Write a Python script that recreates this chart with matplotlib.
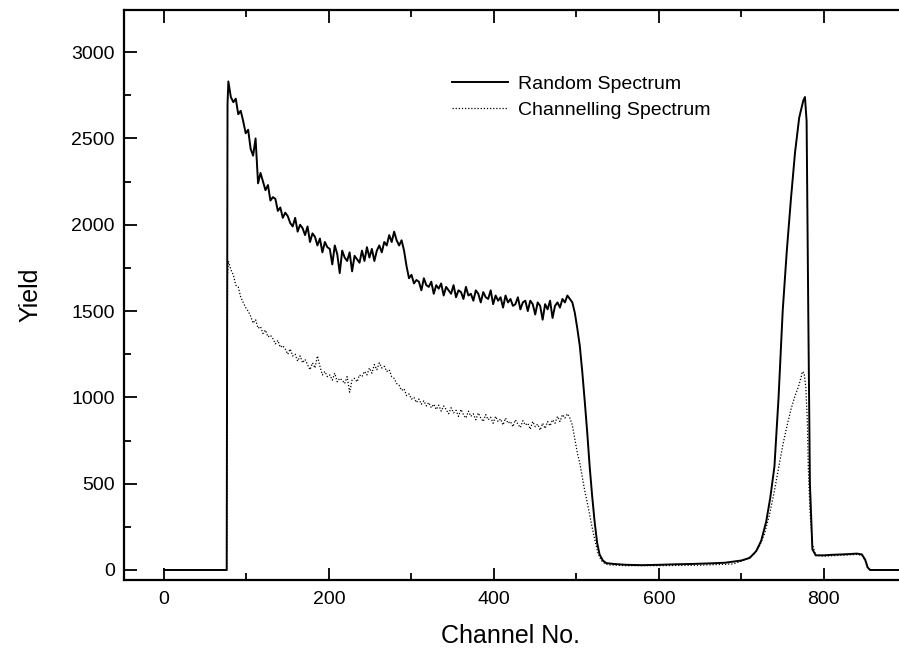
import matplotlib
matplotlib.use("Agg")
import matplotlib.pyplot as plt
from matplotlib.ticker import MultipleLocator

# channel grid of the noisy part of both spectra (every 3rd channel)
noisy_ch = list(range(78, 499, 3))

random_head_ch = [0, 76, 77]
random_head = [0, 0, 2700]
random_noisy = [
    2830, 2740, 2710, 2730, 2640, 2660, 2600, 2530, 2550, 2440, 2400, 2500,
    2240, 2300, 2250, 2200, 2230, 2140, 2160, 2150, 2080, 2100, 2040, 2070,
    2050, 2010, 1990, 2040, 1960, 2000, 1980, 1940, 1990, 1900, 1950, 1930,
    1880, 1920, 1840, 1900, 1870, 1860, 1770, 1880, 1830, 1720, 1850, 1810,
    1790, 1840, 1730, 1820, 1800, 1780, 1850, 1790, 1870, 1810, 1860, 1790,
    1850, 1880, 1840, 1900, 1880, 1940, 1900, 1960, 1910, 1880, 1910, 1850,
    1760, 1690, 1710, 1660, 1680, 1670, 1620, 1690, 1650, 1640, 1670, 1600,
    1650, 1630, 1660, 1590, 1640, 1620, 1600, 1650, 1580, 1620, 1610, 1570,
    1640, 1590, 1600, 1560, 1620, 1600, 1550, 1610, 1580, 1570, 1620, 1540,
    1590, 1560, 1580, 1520, 1590, 1550, 1570, 1530, 1540, 1580, 1510, 1550,
    1560, 1500, 1560, 1540, 1480, 1550, 1530, 1450, 1540, 1510, 1560, 1460,
    1530, 1550, 1520, 1570, 1550, 1590, 1570, 1550, 1490,
]
random_tail_ch = [501, 504, 507, 510, 513, 516, 519, 522, 525, 528, 532, 536,
                  545, 560, 580, 600, 620, 640, 660, 680, 700, 710, 718, 724,
                  730, 735, 740, 745, 750, 755, 760, 765, 770, 775, 777, 779,
                  781, 783, 786, 790, 800, 810, 820, 830, 840, 846, 850, 853,
                  856, 890]
random_tail = [1400, 1300, 1150, 980, 800, 600, 430, 280, 160, 90, 55, 40,
               35, 30, 28, 30, 33, 35, 38, 42, 55, 70, 110, 170,
               280, 420, 600, 1000, 1500, 1850, 2150, 2420, 2620, 2720, 2740, 2600,
               1500, 500, 120, 85, 85, 88, 90, 92, 95, 90, 60, 15,
               0, 0]

chan_head_ch = [0, 76, 77]
chan_head = [0, 0, 1700]
chan_noisy = [
    1790, 1740, 1710, 1650, 1640, 1580, 1550, 1520, 1500, 1470, 1430, 1450,
    1400, 1410, 1370, 1390, 1350, 1360, 1340, 1310, 1330, 1290, 1300, 1280,
    1250, 1280, 1240, 1250, 1210, 1240, 1200, 1220, 1190, 1160, 1200, 1170,
    1240, 1180, 1130, 1150, 1120, 1130, 1100, 1140, 1090, 1110, 1100, 1080,
    1120, 1030, 1100, 1110, 1090, 1130, 1120, 1150, 1130, 1170, 1140, 1190,
    1160, 1200, 1170, 1180, 1150, 1160, 1120, 1110, 1080, 1070, 1040, 1050,
    1010, 1020, 990, 1000, 970, 990, 960, 980, 950, 970, 940, 960,
    930, 955, 920, 950, 930, 905, 940, 910, 925, 890, 930, 900,
    880, 920, 890, 905, 870, 910, 880, 860, 900, 870, 885, 850,
    890, 860, 875, 840, 880, 850, 860, 830, 870, 845, 825, 865,
    840, 850, 815, 860, 830, 845, 810, 850, 820, 860, 835, 870,
    850, 890, 860, 900, 880, 905, 880, 840, 760,
]
chan_tail_ch = [501, 504, 507, 510, 514, 518, 522, 526, 530, 535, 540, 560,
                600, 650, 690, 705, 715, 722, 728, 734, 740, 745, 750, 755,
                760, 765, 769, 772, 774, 776, 778, 780, 781, 783, 786, 790,
                800, 820, 840, 846, 850, 853, 856, 890]
chan_tail = [680, 620, 540, 460, 370, 270, 180, 100, 55, 35, 30, 25,
             25, 28, 35, 60, 90, 140, 210, 320, 460, 590, 720, 830,
             930, 1010, 1060, 1110, 1150, 1140, 1060, 850, 600, 350, 150, 85,
             80, 85, 90, 85, 55, 10, 0, 0]

x_ticks = [0, 200, 400, 600, 800]
y_ticks = [0, 500, 1000, 1500, 2000, 2500, 3000]

random_ch = random_head_ch + noisy_ch + random_tail_ch
random_y = random_head + random_noisy + random_tail
chan_ch = chan_head_ch + noisy_ch + chan_tail_ch
chan_y = chan_head + chan_noisy + chan_tail

plt.rcParams['font.family'] = ['Liberation Sans', 'DejaVu Sans']

W, H = 899, 657
fig = plt.figure(figsize=(W / 100, H / 100), dpi=100)
ax = fig.add_axes([124 / W, 1 - 580 / H, (W - 124) / W, 570 / H])

ax.plot(chan_ch, chan_y, color='black', lw=0.9, linestyle=(0, (1, 1.5)),
        label='Channelling Spectrum')
ax.plot(random_ch, random_y, color='black', lw=1.4, label='Random Spectrum')

ax.set_xlim(-48.5, 891)
ax.set_ylim(-58, 3244)
ax.set_xticks(x_ticks)
ax.set_yticks(y_ticks)
ax.xaxis.set_minor_locator(MultipleLocator(100))
ax.yaxis.set_minor_locator(MultipleLocator(250))
ax.tick_params(which='both', direction='in', top=True, right=False, width=1.3)
ax.tick_params(which='major', length=9, labelsize=14)
ax.tick_params(axis='x', which='major', pad=8)
ax.tick_params(axis='y', which='major', pad=6.5)
ax.tick_params(which='minor', length=5)
for side in ['left', 'bottom', 'top']:
    ax.spines[side].set_linewidth(1.6)
ax.spines['right'].set_visible(False)

handles, labels = ax.get_legend_handles_labels()
ax.legend(handles[::-1], labels[::-1], loc='upper left', frameon=False,
          bbox_to_anchor=(452 / W, 1 - 75 / H), bbox_transform=fig.transFigure,
          borderpad=0, borderaxespad=0, handlelength=2.9, handletextpad=0.5,
          labelspacing=0.45, fontsize=14)

fig.text(30 / W, 1 - 295 / H, 'Yield', rotation=90, ha='center', va='center', fontsize=18)
fig.text(511 / W, 1 - 636 / H, 'Channel No.', ha='center', va='center', fontsize=18)

fig.savefig('out.png', dpi=100)
